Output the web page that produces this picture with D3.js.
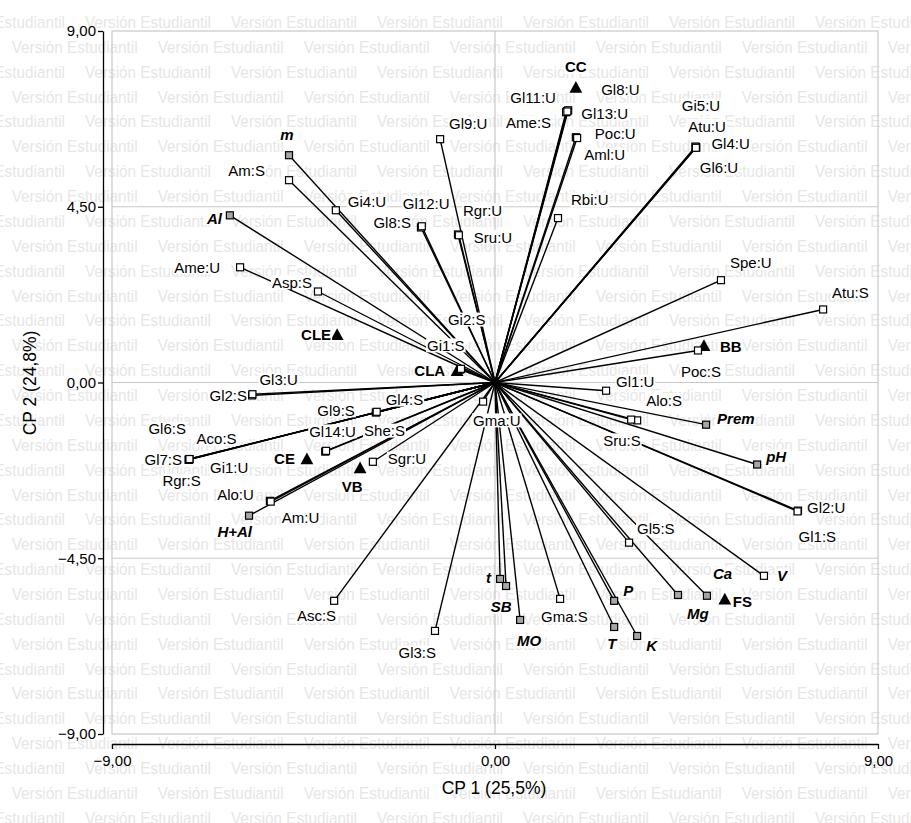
<!DOCTYPE html>
<html>
<head>
<meta charset="utf-8">
<script src="https://cdn.jsdelivr.net/npm/d3@7"></script>
<style>
  html, body { margin: 0; padding: 0; background: #fff; }
  svg { display: block; }
  text { font-family: "Liberation Sans", Arial, sans-serif; }
</style>
</head>
<body>
<svg id="chart" width="911" height="823"></svg>
<script>
// Species scores (CP 1, CP 2)
const species = ["Am:S","Gi4:U","Gl9:U","Gl8:S","Gl12:U","Rgr:U","Sru:U","Gl11:U","Ame:S","Gl8:U","Gl13:U","Poc:U","Aml:U","Rbi:U","Gi5:U","Atu:U","Gl4:U","Gl6:U","Ame:U","Asp:S","Spe:U","Atu:S","Poc:S","Gl1:U","Gi1:S","Gi2:S","Gl2:S","Gl3:U","Gma:U","Gl9:S","Gl4:S","Gl14:U","She:S","Sgr:U","Gl7:S","Gl6:S","Aco:S","Gi1:U","Rgr:S","Alo:U","Am:U","Alo:S","Sru:S","Gl2:U","Gl1:S","Gl5:S","Gma:S","Asc:S","Gl3:S"];
const speciesCP1 = [-4.84,-3.74,-1.29,-1.74,-1.72,-0.87,-0.85,1.69,1.67,1.72,1.70,1.90,1.93,1.48,4.72,4.73,4.71,4.72,-5.99,-4.16,5.31,7.71,4.77,2.61,-0.82,-0.80,-5.71,-5.70,-0.28,-2.80,-2.78,-3.99,-3.97,-2.87,-7.19,-7.18,-7.20,-7.19,-7.18,-5.29,-5.27,3.34,3.20,7.12,7.11,3.15,1.53,-3.78,-1.41];
const speciesCP2 = [5.18,4.41,6.23,3.97,4.00,3.79,3.77,6.95,6.92,6.97,6.94,6.28,6.26,4.21,6.03,6.02,6.04,6.01,2.95,2.33,2.62,1.87,0.82,-0.21,0.33,0.35,-0.33,-0.30,-0.49,-0.77,-0.75,-1.77,-1.75,-2.03,-1.97,-1.96,-1.98,-1.97,-1.96,-3.03,-3.05,-0.97,-0.95,-3.28,-3.30,-4.10,-5.54,-5.59,-6.36];

// Soil variables (CP 1, CP 2)
const soilVars = ["m","Al","H+Al","Prem","pH","V","Ca","Mg","P","T","K","MO","SB","t"];
const soilCP1 = [-4.84,-6.23,-5.78,4.96,6.16,6.32,4.98,4.30,2.80,2.80,3.34,0.59,0.26,0.12];
const soilCP2 = [5.82,4.28,-3.41,-1.08,-2.10,-4.95,-5.46,-5.44,-5.59,-6.26,-6.49,-6.08,-5.21,-5.03];

// Sites (CP 1, CP 2)
const sites = ["CC","CLE","CLA","BB","CE","VB","FS"];
const siteCP1 = [1.90,-3.71,-0.89,4.91,-4.42,-3.17,5.40];
const siteCP2 = [7.56,1.23,0.31,0.95,-1.95,-2.18,-5.54];

// Axis ticks and titles
const xTicks = [-9, 0, 9];
const yTicks = [-9, -4.5, 0, 4.5, 9];
const gridY = [-4.5, 0, 4.5];
const gridX = [0];
const xTitle = "CP 1 (25,5%)";
const yTitle = "CP 2 (24,8%)";
const watermarkText = "Versión Estudiantil";

// Label placement: [anchor, dx, dy] in pixels from the marker
const labelLayout = {
  "m":["middle",-2,-20], "Am:S":["end",-24,-9], "Al":["end",-8,3], "Gi4:U":["start",12,-9],
  "Gl9:U":["start",9,-15], "Gl12:U":["start",-19,-23], "Gl8:S":["end",-10,-5], "Rgr:U":["start",5,-24],
  "Sru:U":["start",15,2], "Gl11:U":["end",-11,-13], "Ame:S":["end",-15,11], "Gl8:U":["start",33,-21],
  "Gl13:U":["start",14,2], "Poc:U":["start",19,-3], "Aml:U":["start",7,17], "Rbi:U":["start",13,-18],
  "Gi5:U":["start",-14,-41], "Atu:U":["start",-8,-21], "Gl4:U":["start",16,-3], "Gl6:U":["start",4,20],
  "Ame:U":["end",-20,0], "Asp:S":["end",-6,-9], "CLE":["end",-6,0], "Gl3:U":["start",7,-14],
  "Gl2:S":["end",-5,0], "Gl6:S":["start",-41,-30], "Aco:S":["start",8,-21], "Gl7:S":["end",-7,0],
  "Gi1:U":["start",21,8], "Rgr:S":["start",-27,22], "CE":["end",-12,0], "Alo:U":["end",-16,-6],
  "Am:U":["start",11,16], "H+Al":["end",3,16], "Gi2:S":["start",-13,-49], "Gi1:S":["start",-33,-24],
  "CLA":["end",-12,0], "Gl4:S":["start",9,-12], "Gl9:S":["end",-21,-2], "Gl14:U":["start",-16,-20],
  "She:S":["start",38,-20], "Sgr:U":["start",15,-3], "VB":["middle",-8,19], "Gma:U":["start",-10,19],
  "Gl1:U":["start",10,-9], "Spe:U":["start",9,-17], "Atu:S":["start",9,-17], "BB":["start",16,1],
  "Poc:S":["start",-17,21], "Alo:S":["start",9,-20], "Sru:S":["start",-28,21], "Prem":["start",11,-6],
  "pH":["start",9,-8], "Gl2:U":["start",9,-3], "Gl1:S":["start",1,25], "Gl5:S":["start",8,-14],
  "V":["start",13,0], "Ca":["start",6,-22], "Mg":["start",9,19], "FS":["start",8,3],
  "P":["start",9,-10], "T":["start",-7,17], "K":["start",9,10], "Asc:S":["end",2,15],
  "Gl3:S":["end",1,22], "t":["end",-9,-1], "SB":["middle",-5,21], "MO":["start",-3,21],
  "Gma:S":["start",-19,18], "CC":["middle",0,-20]
};
const openSoilMarkers = new Set(["V"]);

const W = 911, H = 823;
const svg = d3.select("#chart");
svg.append("rect").attr("width", W).attr("height", H).attr("fill", "#fff");

// Repeated light watermark text
const wm = svg.append("g").attr("fill", "#e6e6e6").attr("font-size", 17);
const period = 146, rowStep = 24.87;
for (let r = 0; r < 34; r++) {
  const yb = 28 + r * rowStep;
  const x0 = (r % 2 === 0) ? 85 - period : 11.7;
  for (let k = -1; k < 8; k++) {
    wm.append("text")
      .attr("x", x0 + k * period).attr("y", yb)
      .attr("textLength", 126).attr("lengthAdjust", "spacingAndGlyphs")
      .text(watermarkText);
  }
}

const x = d3.scaleLinear().domain([-9, 9]).range([112, 878]);
const y = d3.scaleLinear().domain([-9, 9]).range([734, 31]);
const locale = d3.formatLocale({decimal: ",", thousands: ".", grouping: [3], currency: ["", ""]});
const fmt = locale.format(".2f");

// Frame and grid
const grid = svg.append("g").attr("stroke", "#c8c8c8").attr("stroke-width", 1.2).attr("fill", "none");
grid.append("rect").attr("x", x(-9)).attr("y", y(9)).attr("width", x(9) - x(-9)).attr("height", y(-9) - y(9));
gridY.forEach(v => grid.append("line").attr("x1", x(-9)).attr("x2", x(9)).attr("y1", y(v)).attr("y2", y(v)));
gridX.forEach(v => grid.append("line").attr("y1", y(-9)).attr("y2", y(9)).attr("x1", x(v)).attr("x2", x(v)));

// Axes
const yAxis = svg.append("g").attr("transform", "translate(103,0)")
  .call(d3.axisLeft(y).tickValues(yTicks).tickFormat(fmt).tickSize(5).tickSizeOuter(0).tickPadding(2));
const xAxis = svg.append("g").attr("transform", "translate(0,744)")
  .call(d3.axisBottom(x).tickValues(xTicks).tickFormat(fmt).tickSize(5).tickSizeOuter(0).tickPadding(6));
[yAxis, xAxis].forEach(a => {
  a.selectAll("path,line").attr("stroke", "#000").attr("stroke-width", 1.3);
  a.selectAll("text").attr("font-size", 15).attr("fill", "#000")
    .attr("font-family", "'Liberation Sans', Arial, sans-serif");
});
svg.append("text").attr("x", 494).attr("y", 788).attr("dy", "0.35em")
  .attr("text-anchor", "middle").attr("font-size", 17.5).text(xTitle);
svg.append("text").attr("transform", "translate(30,383) rotate(-90)").attr("dy", "0.35em")
  .attr("text-anchor", "middle").attr("font-size", 17.5).text(yTitle);

// Build point records
const pts = [];
species.forEach((n, i) => pts.push({name: n, cp1: speciesCP1[i], cp2: speciesCP2[i], kind: "species"}));
soilVars.forEach((n, i) => pts.push({name: n, cp1: soilCP1[i], cp2: soilCP2[i], kind: "soil"}));
const sitePts = sites.map((n, i) => ({name: n, cp1: siteCP1[i], cp2: siteCP2[i], kind: "site"}));

// Vectors from origin
svg.append("g").attr("stroke", "#000").attr("stroke-width", 1.4)
  .selectAll("line").data(pts).join("line")
  .attr("x1", x(0)).attr("y1", y(0))
  .attr("x2", d => x(d.cp1)).attr("y2", d => y(d.cp2));

// Site triangles
svg.append("g").selectAll("path").data(sitePts).join("path")
  .attr("transform", d => `translate(${x(d.cp1)},${y(d.cp2)})`)
  .attr("d", "M0,-6.2L6.4,5.6L-6.4,5.6Z").attr("fill", "#000");

// Square markers
const s = 7;
svg.append("g").selectAll("rect").data(pts).join("rect")
  .attr("x", d => x(d.cp1) - s / 2).attr("y", d => y(d.cp2) - s / 2)
  .attr("width", s).attr("height", s)
  .attr("fill", d => d.kind === "soil" && !openSoilMarkers.has(d.name) ? "#a6a6a6" : "#fff")
  .attr("stroke", "#000").attr("stroke-width", 1.2);

// Labels with white backing
const labelsG = svg.append("g");
[...pts, ...sitePts].forEach(d => {
  const lay = labelLayout[d.name] || ["start", 8, 0];
  const g = labelsG.append("g");
  const t = g.append("text")
    .attr("x", x(d.cp1) + lay[1]).attr("y", y(d.cp2) + lay[2]).attr("dy", "0.35em")
    .attr("text-anchor", lay[0]).attr("font-size", 15).attr("fill", "#000")
    .attr("font-weight", d.kind === "species" ? "normal" : "bold")
    .attr("font-style", d.kind === "soil" ? "italic" : "normal")
    .text(d.name);
  const b = t.node().getBBox();
  g.insert("rect", "text").attr("x", b.x - 1).attr("y", b.y + 1.5)
    .attr("width", b.width + 2).attr("height", b.height - 3).attr("fill", "#fff");
});
</script>
</body>
</html>
